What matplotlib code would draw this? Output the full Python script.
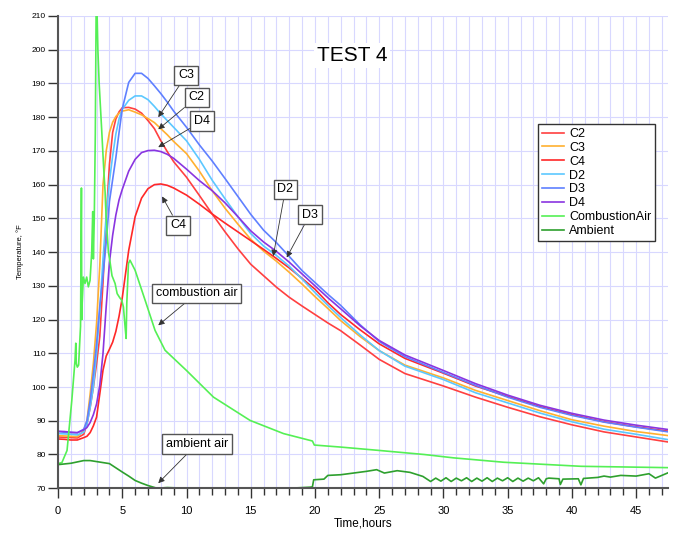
import matplotlib
matplotlib.use('Agg')
import matplotlib.pyplot as plt
from matplotlib.ticker import MultipleLocator

plt.rcParams['font.family'] = ['Liberation Sans', 'DejaVu Sans']

# tiempos comunes de los sensores C y D (horas)
horas = [0, 0.5, 1, 1.5, 2, 2.25, 2.5, 2.75, 3, 3.25, 3.5, 3.75, 4, 4.25, 4.5, 4.75,
         5, 5.5, 6, 6.5, 7, 7.5, 8, 8.5, 9, 10, 11, 12, 13, 14, 15, 16, 17, 18, 19,
         20, 21, 22, 23.5, 25, 27, 30, 32.5, 35, 37.5, 40, 42.5, 45, 47.5]

c2 = [85.2, 85.1, 85.0, 84.9, 86, 89, 94, 100, 107, 115, 131, 150, 166, 175.5,
      179.5, 181.6, 182.8, 182.9, 182.4, 181.2, 179, 176.6, 173, 169.8, 166.8,
      162.2, 156.8, 151.3, 146, 141, 136.4, 133, 129.6, 126.6, 124, 121.5, 119,
      116.7, 112.5, 108.2, 104, 100.3, 97, 94, 91.2, 88.8, 86.7, 85.2, 83.7]
c3 = [85.6, 85.5, 85.4, 85.3, 87, 90, 98, 107, 119, 136, 160, 170, 175.5, 178.5,
      180.2, 181.2, 181.8, 182.2, 181.5, 180.7, 179.6, 178.4, 176.6, 174.8, 172.8,
      169.2, 164, 158.2, 153, 148.3, 143.8, 140.3, 137.3, 134, 130.5, 126.8, 123.3,
      119.7, 115, 110.8, 106.5, 102.7, 99, 96, 93, 90.3, 88.4, 86.8, 85.6]
c4 = [84.6, 84.5, 84.3, 84.3, 85, 85.4, 86.5, 88.5, 91.1, 98, 105, 109.2, 111.2,
      113.3, 116.5, 121, 126.5, 140.5, 150.5, 156, 158.8, 160, 160.2, 159.8, 159,
      156.9, 154.2, 151.3, 148.6, 146, 143.4, 140.8, 138.1, 135.3, 132.2, 129, 125,
      121.5, 117, 112.8, 108.5, 104.1, 100.3, 97.2, 94.2, 91.8, 89.7, 88.2, 86.9]
d2 = [86.2, 86.1, 86.0, 85.8, 86.6, 89, 94, 100, 110, 123, 138, 151, 161, 168.5,
      175, 179.5, 182.3, 185, 186.3, 186.3, 185.2, 183.2, 181, 179, 177, 173,
      167.5, 161.3, 155.8, 150.5, 145.5, 141.8, 139, 135.8, 132, 128, 124.2, 120.6,
      115.5, 110.8, 106.2, 102.2, 98.3, 95.3, 92.3, 89.7, 87.5, 86, 84.4]
d3 = [86.8, 86.6, 86.5, 86.4, 87.5, 90, 96, 104, 113, 124, 133, 143, 155, 161.5,
      168, 175.5, 182.5, 190.3, 193, 193, 191.5, 189.3, 187, 184.5, 181.8, 177,
      171.8, 167, 161.8, 156.5, 151.2, 146.5, 142.8, 138.7, 134.5, 131, 127.5,
      124.2, 118.5, 113.5, 109, 104.3, 100.5, 97, 94, 91.6, 89.6, 88.1, 86.7]
d4 = [86.9, 86.8, 86.6, 86.5, 87.3, 88, 89.5, 91.8, 95, 100.5, 110, 124, 137, 145,
      151, 155.5, 158.6, 164, 167.5, 169.5, 170.1, 170.2, 169.8, 169, 167.8, 164.6,
      161.2, 158.2, 154.6, 150.5, 146.3, 143, 140.2, 137, 133.5, 130, 126.5, 123.2,
      118.2, 113.8, 109.5, 104.9, 101, 97.6, 94.6, 92.2, 90.2, 88.7, 87.4]

# aire de combustion
t_comb = [0, 0.3, 0.7, 1.07, 1.32, 1.38, 1.42, 1.5, 1.6, 1.75, 1.82, 1.85, 1.88,
          1.97, 2.1, 2.23, 2.36, 2.49, 2.62, 2.7, 2.75, 2.82, 2.9, 2.97, 3.03, 3.1,
          3.2, 3.4, 3.55, 3.66, 3.7, 3.75, 3.92, 4.05, 4.2, 4.44, 4.6, 4.8, 4.96,
          5.09, 5.22, 5.3, 5.35, 5.48, 5.6, 6.0, 6.78, 7.55, 8.33, 10, 12.1, 14.95,
          17.55, 19.8, 19.95, 22, 25, 28.5, 30.8, 34.7, 40.7, 47.5]
comb = [77.3, 77.6, 81.2, 96, 107.9, 113, 107, 105.9, 106.5, 118, 159, 120, 125,
        132.6, 130.7, 132.6, 129.7, 131.6, 140, 152, 138, 150, 175, 215, 212, 200,
        190, 176, 165, 158, 154, 150, 140, 137, 133, 130.7, 127.7, 126.5, 125.7,
        123.7, 117.8, 114.4, 124.7, 136.6, 137.6, 134.6, 125.7, 116.8, 110.9,
        104.9, 97, 90.1, 86.2, 84, 82.8, 82.2, 81.2, 80, 79, 77.7, 76.5, 76.1]

# ambiente
t_amb = [0, 1, 2, 2.5, 3, 4, 5, 5.5, 6, 6.5, 7, 7.7, 8.5, 10, 12, 14, 16, 18, 19.6,
         19.8, 19.9, 20.7, 21, 22, 23, 24, 24.8, 25.4, 26.4, 27.4, 28.4, 28.8,
         29.0, 29.4, 29.8, 30.2, 30.6, 31.0, 31.4, 31.8, 32.2, 32.6, 33.0, 33.4,
         33.8, 34.2, 34.6, 35.0, 35.4, 35.8, 36.2, 36.6, 37.0, 37.4, 37.8, 38.0,
         38.2, 39.0, 39.1, 39.3, 40.5, 40.7, 40.9, 42, 42.5, 43, 43.8, 45, 46, 46.5,
         47.5]
amb = [77, 77.4, 78.2, 78.2, 77.9, 77.3, 74.8, 73.6, 72.3, 71.5, 70.8, 70, 70.2,
       70, 70.1, 70, 70.1, 70, 70.3, 70.4, 72.5, 72.7, 73.8, 74, 74.5, 75, 75.5,
       74.5, 75.2, 74.7, 73.5, 72.5,
       72.0, 73.0, 72.1, 73.1, 72.0, 73.0, 72.2, 73.1, 72.0, 73.0, 72.1, 73.1,
       72.0, 73.0, 72.2, 73.1, 72.0, 73.0, 72.1, 73.0, 72.2, 73.1, 71.3, 72.8,
       73.0, 72.8, 71.1, 72.7, 72.8, 71.0, 72.9, 73.2, 73.6, 73.3, 73.8, 73.6,
       74.3, 73.0, 74.6]

series = [('C2', c2, '#ff4040'), ('C3', c3, '#ffb030'), ('C4', c4, '#ff2828'),
          ('D2', d2, '#5cc8ff'), ('D3', d3, '#5f80ff'), ('D4', d4, '#8a35e0')]

fig = plt.figure(figsize=(6.75, 5.33), dpi=100)
ax = fig.add_axes([0.086, 0.084, 0.904, 0.886])

for nombre, valores, color in series:
    ax.plot(horas, valores, color=color, lw=1.2, label=nombre)
ax.plot(t_comb, comb, color='#55f055', lw=1.2, label='CombustionAir')
ax.plot(t_amb, amb, color='#2ea02e', lw=1.2, label='Ambient')

ax.set_xlim(0, 47.5)
ax.set_ylim(70, 210)
ax.xaxis.set_major_locator(MultipleLocator(5))
ax.xaxis.set_minor_locator(MultipleLocator(1))
ax.yaxis.set_major_locator(MultipleLocator(10))

ax.grid(which='both', axis='x', color='#d8d8ff', lw=0.8)
ax.grid(which='major', axis='y', color='#d8d8ff', lw=0.8)
ax.set_axisbelow(True)

for lado in ['top', 'right']:
    ax.spines[lado].set_visible(False)
for lado in ['left', 'bottom']:
    ax.spines[lado].set_color('#555555')
    ax.spines[lado].set_linewidth(1.5)

ax.tick_params(axis='x', which='major', length=7, width=1, color='#333333',
               labelsize=8, pad=6)
ax.tick_params(axis='x', which='minor', length=5, width=1, color='#333333')
ax.tick_params(axis='y', which='major', length=7, width=1, color='#333333',
               labelsize=6, pad=2)

ax.set_xlabel('Time,hours', fontsize=8.5, labelpad=1)
ax.set_ylabel('Temperature, °F', fontsize=5.5, labelpad=5)

ax.text(22.9, 198.3, 'TEST 4', fontsize=15, ha='center', va='center',
        bbox=dict(facecolor='white', edgecolor='none', pad=2))

# etiquetas con flecha
etiquetas = [('C3', 9.97, 192.4, 7.8, 180.0),
             ('C2', 10.8, 185.9, 7.8, 176.4),
             ('D4', 11.2, 178.8, 7.8, 171.1),
             ('C4', 9.35, 147.9, 8.1, 156.5),
             ('D2', 17.7, 158.6, 16.75, 138.8),
             ('D3', 19.6, 151.1, 17.8, 138.4),
             ('combustion air', 10.8, 127.8, 7.8, 118.3),
             ('ambient air', 10.8, 83.1, 7.8, 71.5)]
for texto, xt, yt, xp, yp in etiquetas:
    ax.annotate(texto, xy=(xp, yp), xytext=(xt, yt), fontsize=9,
                ha='center', va='center',
                bbox=dict(boxstyle='square,pad=0.3', facecolor='white',
                          edgecolor='#555555', lw=1),
                arrowprops=dict(arrowstyle='-|>', color='#333333', lw=0.6,
                                mutation_scale=9, shrinkA=0, shrinkB=0))

leg = ax.legend(loc='upper left', bbox_to_anchor=(0.787, 0.771), fontsize=9,
                frameon=True, fancybox=False, edgecolor='#333333',
                framealpha=1, borderpad=0.3, borderaxespad=0,
                labelspacing=0.15, handlelength=1.75, handletextpad=0.4)
leg.get_frame().set_linewidth(1)

fig.savefig('out.png', dpi=100)
